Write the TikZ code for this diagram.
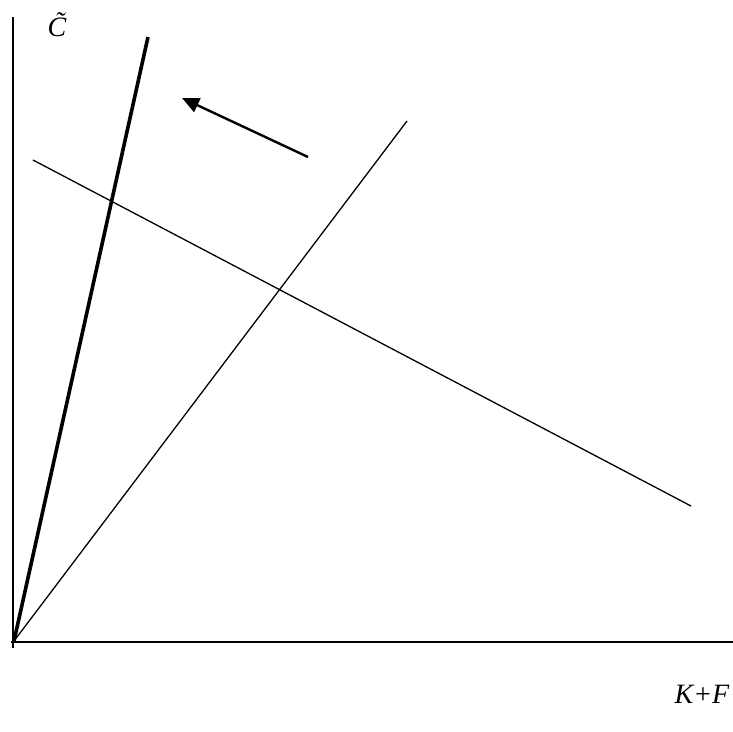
\documentclass[tikz,border=0pt]{standalone}
\usepackage{fontspec}
\setmainfont{Liberation Serif}
\usetikzlibrary{arrows.meta}
\begin{document}
\begin{tikzpicture}[x=1pt,y=-1pt,
  axis/.style={line width=1.6pt},
  thin/.style={line width=1.3pt},
  thick/.style={line width=3.6pt},
  lbl/.style={inner sep=0pt,font=\fontsize{28}{30}\selectfont\itshape}]
\useasboundingbox (0,0) rectangle (733,731);
\coordinate (ytop) at (13,17);
\coordinate (ybot) at (13,648);
\coordinate (xl) at (11,642);
\coordinate (xr) at (733,642);
\coordinate (O) at (14,641);
\coordinate (T) at (148,37);
\coordinate (M) at (407,121);
\coordinate (D1) at (33,160);
\coordinate (D2) at (691,506);
\coordinate (A1) at (308,157);
\coordinate (A2) at (182,98);
\draw[axis] (ytop) -- (ybot);
\draw[axis] (xl) -- (xr);
\draw[thick] (O) -- (T);
\draw[thin] (O) -- (M);
\draw[thin] (D1) -- (D2);
\draw[line width=2.4pt,-{Triangle[length=17pt,width=15pt]}] (A1) -- (A2);
\node[lbl] (c) at (57,25) {\~{C}};
\node[lbl] (kf) at (702,694) {K+F};
\end{tikzpicture}
\end{document}
